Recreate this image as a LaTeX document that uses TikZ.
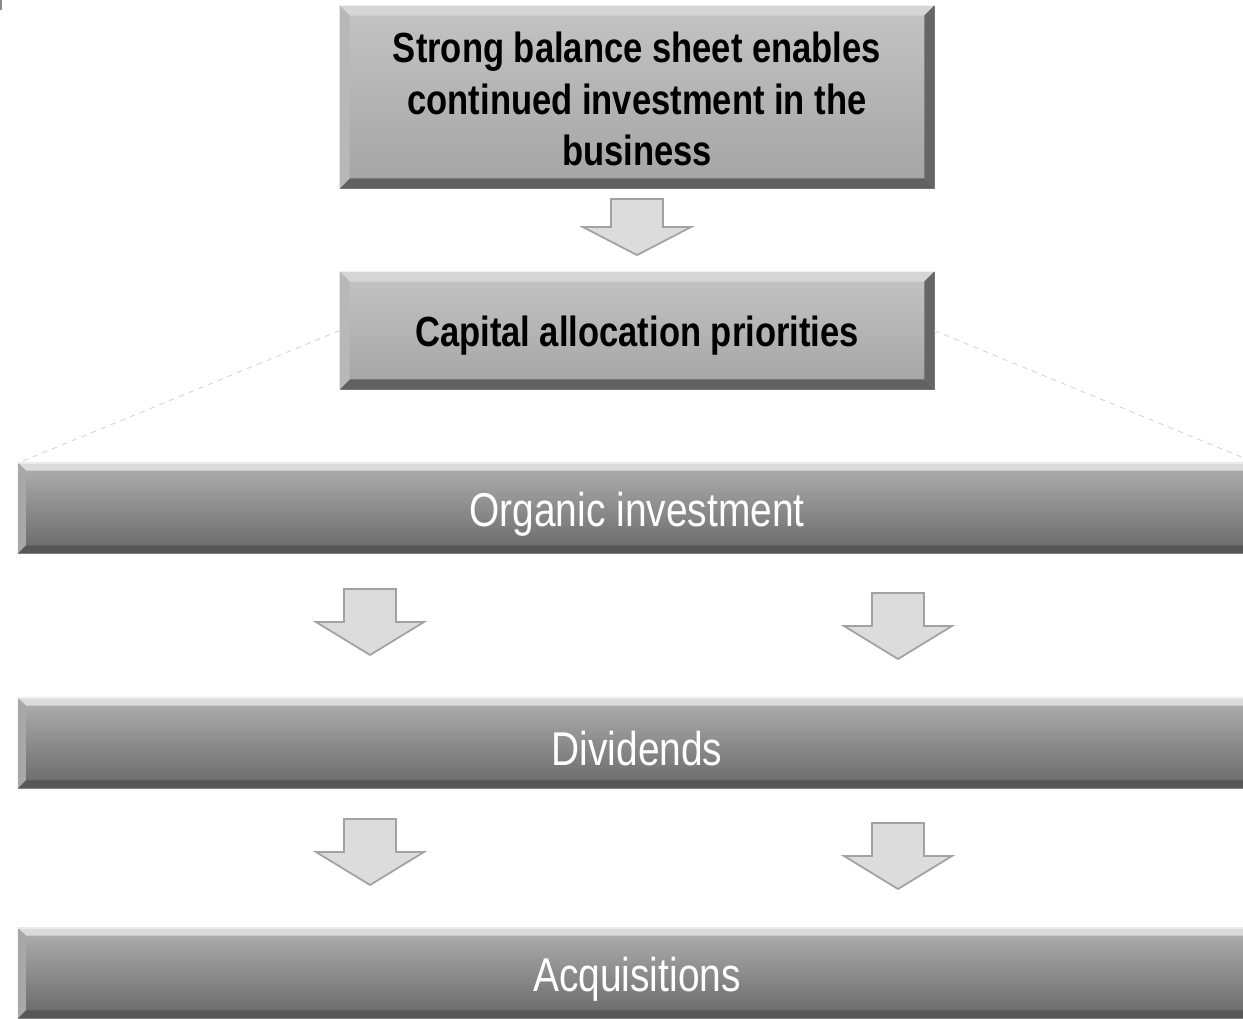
\documentclass[tikz,border=0pt]{standalone}
\usepackage{fontspec}
\setmainfont{Liberation Sans}
\newfontfamily\narrowfont[FakeStretch=0.82]{Liberation Sans}
\usetikzlibrary{calc}

\definecolor{boxtop}{HTML}{C4C4C4}
\definecolor{boxbot}{HTML}{A4A4A4}
\definecolor{bartop}{HTML}{B0B0B0}
\definecolor{barbot}{HTML}{686868}
\definecolor{arrowfill}{HTML}{DCDCDC}
\definecolor{arrowline}{HTML}{A2A2A2}
\definecolor{guide}{HTML}{D4D4D4}

\tikzset{
  panel/.style={rectangle, inner sep=0pt, draw=black!50, line width=0.4pt,
    top color=boxtop, bottom color=boxbot, minimum width=11.88cm},
  paneltext/.style={align=center, font=\narrowfont\bfseries\fontsize{24}{29.3}\selectfont},
  banner/.style={rectangle, inner sep=0pt, draw=black!40, line width=0.4pt,
    top color=bartop, bottom color=barbot, minimum width=24.76cm, minimum height=1.8cm},
  bannertext/.style={text=white, font=\narrowfont\fontsize{27}{32}\selectfont},
  sinkarrow/.pic={
    \draw[fill=arrowfill, draw=arrowline, line width=1pt, line join=miter]
      (-26,0) -- (26,0) -- (26,33) -- (54,33) -- (0,66) -- (-54,33) -- (-26,33) -- cycle;
  }
}

% bevel facets round a node: name, depth, top, right, bottom, left colour
\newcommand\bevel[6]{
  \fill[#3] (#1.north west) -- (#1.north east) -- ($(#1.north east)+(-#2,#2)$) -- ($(#1.north west)+(#2,#2)$) -- cycle;
  \fill[#4] (#1.north east) -- (#1.south east) -- ($(#1.south east)+(-#2,-#2)$) -- ($(#1.north east)+(-#2,#2)$) -- cycle;
  \fill[#5] (#1.south east) -- (#1.south west) -- ($(#1.south west)+(#2,-#2)$) -- ($(#1.south east)+(-#2,-#2)$) -- cycle;
  \fill[#6] (#1.south west) -- (#1.north west) -- ($(#1.north west)+(#2,#2)$) -- ($(#1.south west)+(#2,-#2)$) -- cycle;
}

\begin{document}
\begin{tikzpicture}[x=0.02cm, y=-0.02cm]
  \clip (0,0) rectangle (1243,1018);
  \fill[white] (0,0) rectangle (1243,1018);
  \fill[black!45] (0,0) rectangle (2,10);

  % top boxes
  \node[panel, minimum height=3.64cm] (sheet) at (637,97) {};
  \bevel{sheet}{10}{black!16}{black!60}{black!62}{black!28}
  \node[paneltext] at ($(sheet)+(0,2)$)
    {Strong balance sheet enables\\continued investment in the\\business};

  \node[panel, minimum height=2.34cm] (prio) at (637,330.5) {};
  \bevel{prio}{10}{black!16}{black!60}{black!62}{black!28}
  \node[paneltext] at ($(prio)+(0,5)$) {Capital allocation priorities};

  % guide lines
  \draw[guide, dashed, line width=0.5pt] (prio.west) -- (18,463);
  \draw[guide, dashed, line width=0.5pt] (prio.east) -- (1256,463);

  % banners
  \node[banner] (organic) at (637,508) {};
  \node[banner] (dividends) at (637,743) {};
  \node[banner] (acquis) at (637,973) {};
  \foreach \b in {organic, dividends, acquis} {
    \bevel{\b}{8}{black!14}{black!60}{black!66}{black!34}
    \draw[black!8, line width=1.2pt] (\b.north west) -- (\b.north east);
  }
  \node[bannertext] at ($(organic)+(0,6)$) {Organic investment};
  \node[bannertext] at ($(dividends)+(0,6)$) {Dividends};
  \node[bannertext] at ($(acquis)+(0,6)$) {Acquisitions};

  % arrows
  \pic[yscale=0.85] at (637,199) {sinkarrow};
  \pic at (370,589) {sinkarrow};
  \pic at (898,593) {sinkarrow};
  \pic at (370,819) {sinkarrow};
  \pic at (898,823) {sinkarrow};
\end{tikzpicture}
\end{document}
